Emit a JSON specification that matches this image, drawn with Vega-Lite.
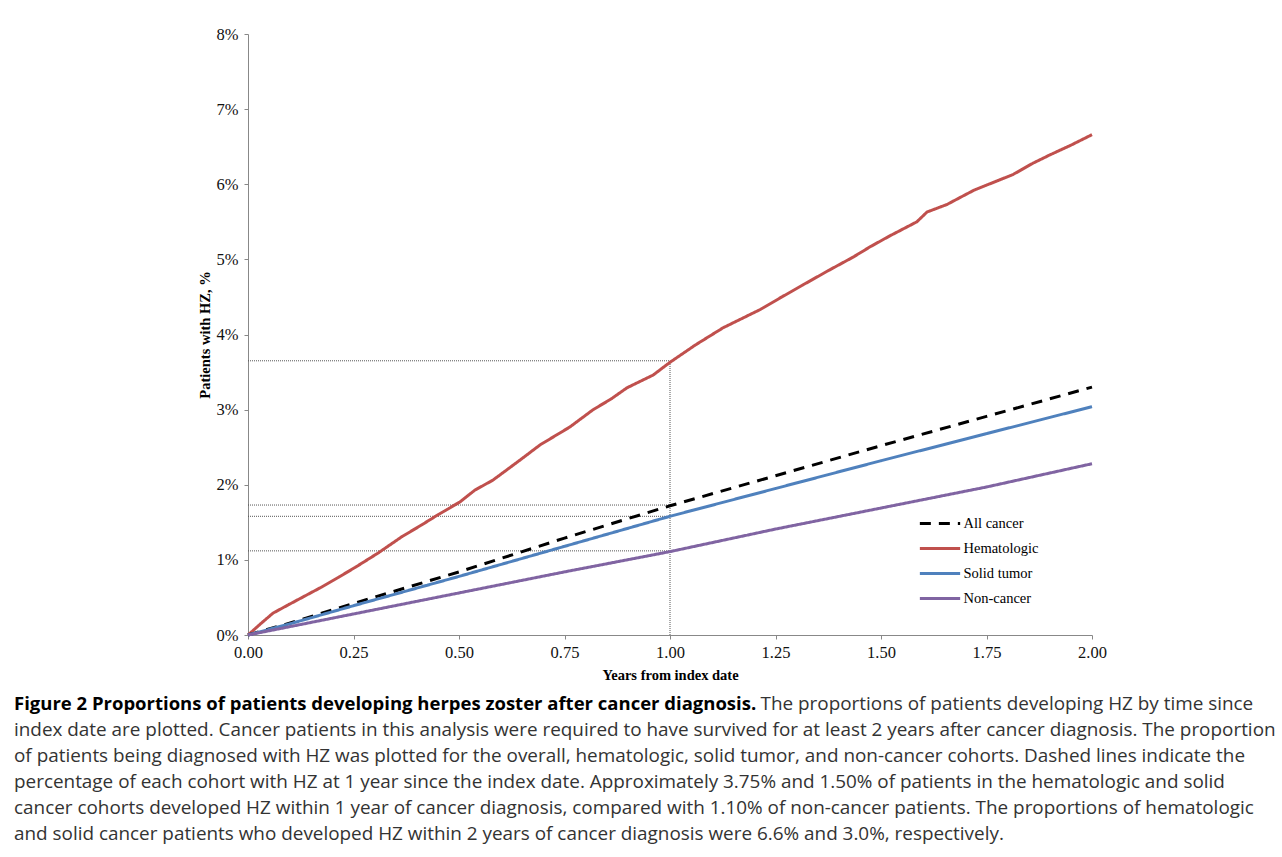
{
  "$schema": "https://vega.github.io/schema/vega-lite/v6.json",
  "width": 844,
  "height": 601,
  "autosize": {"type": "none"},
  "padding": {"left": 248, "top": 34, "right": 190, "bottom": 222},
  "background": "white",
  "title": {
    "text": "Figure 2 Proportions of patients developing herpes zoster after cancer diagnosis.",
    "subtitle": [
      "\u200b\u2003\u2003\u2003\u2003\u2003\u2003\u2003\u2003\u2003\u2003\u2003\u2003\u2003\u2003\u2003\u2003\u2003\u2003\u2003\u2003\u2003\u2003\u2003\u2003\u2003\u2003\u2003\u2003\u2003\u2003\u2003\u2003\u2003\u2003\u2003\u2003\u2003\u2003\u2003\u00a0\u00a0The proportions of patients developing HZ by time since",
      "index date are plotted. Cancer patients in this analysis were required to have survived for at least 2 years after cancer diagnosis. The proportion",
      "of patients being diagnosed with HZ was plotted for the overall, hematologic, solid tumor, and non-cancer cohorts. Dashed lines indicate the",
      "percentage of each cohort with HZ at 1 year since the index date. Approximately 3.75% and 1.50% of patients in the hematologic and solid",
      "cancer cohorts developed HZ within 1 year of cancer diagnosis, compared with 1.10% of non-cancer patients. The proportions of hematologic",
      "and solid cancer patients who developed HZ within 2 years of cancer diagnosis were 6.6% and 3.0%, respectively."
    ],
    "orient": "bottom",
    "anchor": "start",
    "frame": "group",
    "dx": -234,
    "offset": 13,
    "font": "Open Sans",
    "fontSize": 18.5,
    "fontWeight": "bold",
    "color": "#000000",
    "subtitleFont": "Open Sans",
    "subtitleFontSize": 18.9,
    "subtitleColor": "#333333",
    "subtitleLineHeight": 26,
    "subtitlePadding": -18.5
  },
  "datasets": {
    "curves": [
      {"cohort": "Hematologic", "t": 0, "v": 0},
      {"cohort": "Hematologic", "t": 0.03, "v": 0.15},
      {"cohort": "Hematologic", "t": 0.059, "v": 0.29},
      {"cohort": "Hematologic", "t": 0.095, "v": 0.4},
      {"cohort": "Hematologic", "t": 0.135, "v": 0.52},
      {"cohort": "Hematologic", "t": 0.175, "v": 0.64},
      {"cohort": "Hematologic", "t": 0.215, "v": 0.77},
      {"cohort": "Hematologic", "t": 0.254, "v": 0.9},
      {"cohort": "Hematologic", "t": 0.308, "v": 1.09},
      {"cohort": "Hematologic", "t": 0.365, "v": 1.31},
      {"cohort": "Hematologic", "t": 0.41, "v": 1.46},
      {"cohort": "Hematologic", "t": 0.45, "v": 1.6},
      {"cohort": "Hematologic", "t": 0.502, "v": 1.77},
      {"cohort": "Hematologic", "t": 0.538, "v": 1.93},
      {"cohort": "Hematologic", "t": 0.58, "v": 2.06},
      {"cohort": "Hematologic", "t": 0.645, "v": 2.33},
      {"cohort": "Hematologic", "t": 0.692, "v": 2.53},
      {"cohort": "Hematologic", "t": 0.763, "v": 2.77},
      {"cohort": "Hematologic", "t": 0.818, "v": 3.0},
      {"cohort": "Hematologic", "t": 0.86, "v": 3.14},
      {"cohort": "Hematologic", "t": 0.898, "v": 3.29},
      {"cohort": "Hematologic", "t": 0.96, "v": 3.46},
      {"cohort": "Hematologic", "t": 1.0, "v": 3.63},
      {"cohort": "Hematologic", "t": 1.06, "v": 3.86},
      {"cohort": "Hematologic", "t": 1.126, "v": 4.09},
      {"cohort": "Hematologic", "t": 1.213, "v": 4.33},
      {"cohort": "Hematologic", "t": 1.265, "v": 4.5},
      {"cohort": "Hematologic", "t": 1.315, "v": 4.66},
      {"cohort": "Hematologic", "t": 1.375, "v": 4.85},
      {"cohort": "Hematologic", "t": 1.434, "v": 5.03},
      {"cohort": "Hematologic", "t": 1.475, "v": 5.17},
      {"cohort": "Hematologic", "t": 1.52, "v": 5.31},
      {"cohort": "Hematologic", "t": 1.585, "v": 5.5},
      {"cohort": "Hematologic", "t": 1.609, "v": 5.63},
      {"cohort": "Hematologic", "t": 1.656, "v": 5.73},
      {"cohort": "Hematologic", "t": 1.72, "v": 5.92},
      {"cohort": "Hematologic", "t": 1.813, "v": 6.13},
      {"cohort": "Hematologic", "t": 1.86, "v": 6.28},
      {"cohort": "Hematologic", "t": 1.9, "v": 6.39},
      {"cohort": "Hematologic", "t": 1.95, "v": 6.52},
      {"cohort": "Hematologic", "t": 2.0, "v": 6.66},
      {"cohort": "All cancer", "t": 0, "v": 0},
      {"cohort": "All cancer", "t": 0.1, "v": 0.16},
      {"cohort": "All cancer", "t": 0.25, "v": 0.42},
      {"cohort": "All cancer", "t": 0.5, "v": 0.84},
      {"cohort": "All cancer", "t": 0.75, "v": 1.29},
      {"cohort": "All cancer", "t": 1.0, "v": 1.72},
      {"cohort": "All cancer", "t": 1.25, "v": 2.12},
      {"cohort": "All cancer", "t": 1.5, "v": 2.52},
      {"cohort": "All cancer", "t": 1.75, "v": 2.91},
      {"cohort": "All cancer", "t": 2.0, "v": 3.3},
      {"cohort": "Solid tumor", "t": 0, "v": 0},
      {"cohort": "Solid tumor", "t": 0.1, "v": 0.15},
      {"cohort": "Solid tumor", "t": 0.25, "v": 0.39},
      {"cohort": "Solid tumor", "t": 0.5, "v": 0.78},
      {"cohort": "Solid tumor", "t": 0.75, "v": 1.18},
      {"cohort": "Solid tumor", "t": 1.0, "v": 1.58},
      {"cohort": "Solid tumor", "t": 1.25, "v": 1.95},
      {"cohort": "Solid tumor", "t": 1.5, "v": 2.32},
      {"cohort": "Solid tumor", "t": 1.75, "v": 2.68},
      {"cohort": "Solid tumor", "t": 2.0, "v": 3.04},
      {"cohort": "Non-cancer", "t": 0, "v": 0},
      {"cohort": "Non-cancer", "t": 0.25, "v": 0.28},
      {"cohort": "Non-cancer", "t": 0.5, "v": 0.56},
      {"cohort": "Non-cancer", "t": 0.75, "v": 0.84},
      {"cohort": "Non-cancer", "t": 1.0, "v": 1.11},
      {"cohort": "Non-cancer", "t": 1.25, "v": 1.41},
      {"cohort": "Non-cancer", "t": 1.5, "v": 1.69},
      {"cohort": "Non-cancer", "t": 1.75, "v": 1.97},
      {"cohort": "Non-cancer", "t": 2.0, "v": 2.28}
    ],
    "guides": [
      {"x0": 0, "x1": 1, "y0": 3.65, "y1": 3.65},
      {"x0": 0, "x1": 1, "y0": 1.73, "y1": 1.73},
      {"x0": 0, "x1": 1, "y0": 1.58, "y1": 1.58},
      {"x0": 0, "x1": 1, "y0": 1.12, "y1": 1.12},
      {"x0": 1, "x1": 1, "y0": 0, "y1": 3.65}
    ]
  },
  "layer": [
    {
      "data": {"name": "guides"},
      "mark": {"type": "rule", "color": "#555555", "strokeWidth": 1, "strokeDash": [1, 1]},
      "encoding": {
        "x": {"field": "x0", "type": "quantitative", "scale": {"domain": [0, 2], "nice": false}},
        "x2": {"field": "x1"},
        "y": {"field": "y0", "type": "quantitative", "scale": {"domain": [0, 8], "nice": false}},
        "y2": {"field": "y1"}
      }
    },
    {
      "data": {"name": "curves"},
      "mark": {"type": "line", "strokeWidth": 3, "interpolate": "linear"},
      "encoding": {
        "x": {
          "field": "t", "type": "quantitative",
          "scale": {"domain": [0, 2], "nice": false},
          "axis": {
            "title": "Years from index date",
            "values": [0, 0.25, 0.5, 0.75, 1, 1.25, 1.5, 1.75, 2],
            "format": ".2f",
            "grid": false, "labelFlush": false,
            "domainColor": "#888888", "tickColor": "#888888", "tickSize": 4,
            "labelFont": "Liberation Serif", "labelFontSize": 16.5, "labelColor": "#111111", "labelPadding": 5,
            "titleFont": "Liberation Serif", "titleFontSize": 14.5, "titleFontWeight": "bold", "titleColor": "#000000", "titlePadding": 8
          }
        },
        "y": {
          "field": "v", "type": "quantitative",
          "scale": {"domain": [0, 8], "nice": false},
          "axis": {
            "title": "Patients with HZ, %",
            "values": [0, 1, 2, 3, 4, 5, 6, 7, 8],
            "labelExpr": "datum.value + '%'",
            "grid": false, "labelFlush": false,
            "domainColor": "#888888", "tickColor": "#888888", "tickSize": 4,
            "labelFont": "Liberation Serif", "labelFontSize": 16.5, "labelColor": "#111111", "labelPadding": 6,
            "titleFont": "Liberation Serif", "titleFontSize": 14.5, "titleFontWeight": "bold", "titleColor": "#000000", "titlePadding": 4
          }
        },
        "color": {
          "field": "cohort", "type": "nominal",
          "scale": {"domain": ["All cancer", "Hematologic", "Solid tumor", "Non-cancer"], "range": ["#000000", "#C0504D", "#4F81BD", "#8064A2"]},
          "legend": {
            "title": null, "orient": "none", "legendX": 677.5, "legendY": 475,
            "symbolType": "M-1.55,0H1.55", "symbolSize": 676, "symbolStrokeWidth": 3,
            "labelFont": "Liberation Serif", "labelFontSize": 14.5, "labelColor": "#000000",
            "labelOffset": 9, "rowPadding": 4
          }
        },
        "strokeDash": {
          "field": "cohort", "type": "nominal",
          "scale": {"domain": ["All cancer", "Hematologic", "Solid tumor", "Non-cancer"], "range": [[11, 8], [1, 0], [1, 0], [1, 0]]},
          "legend": null
        }
      }
    }
  ],
  "config": {"view": {"stroke": null}}
}
